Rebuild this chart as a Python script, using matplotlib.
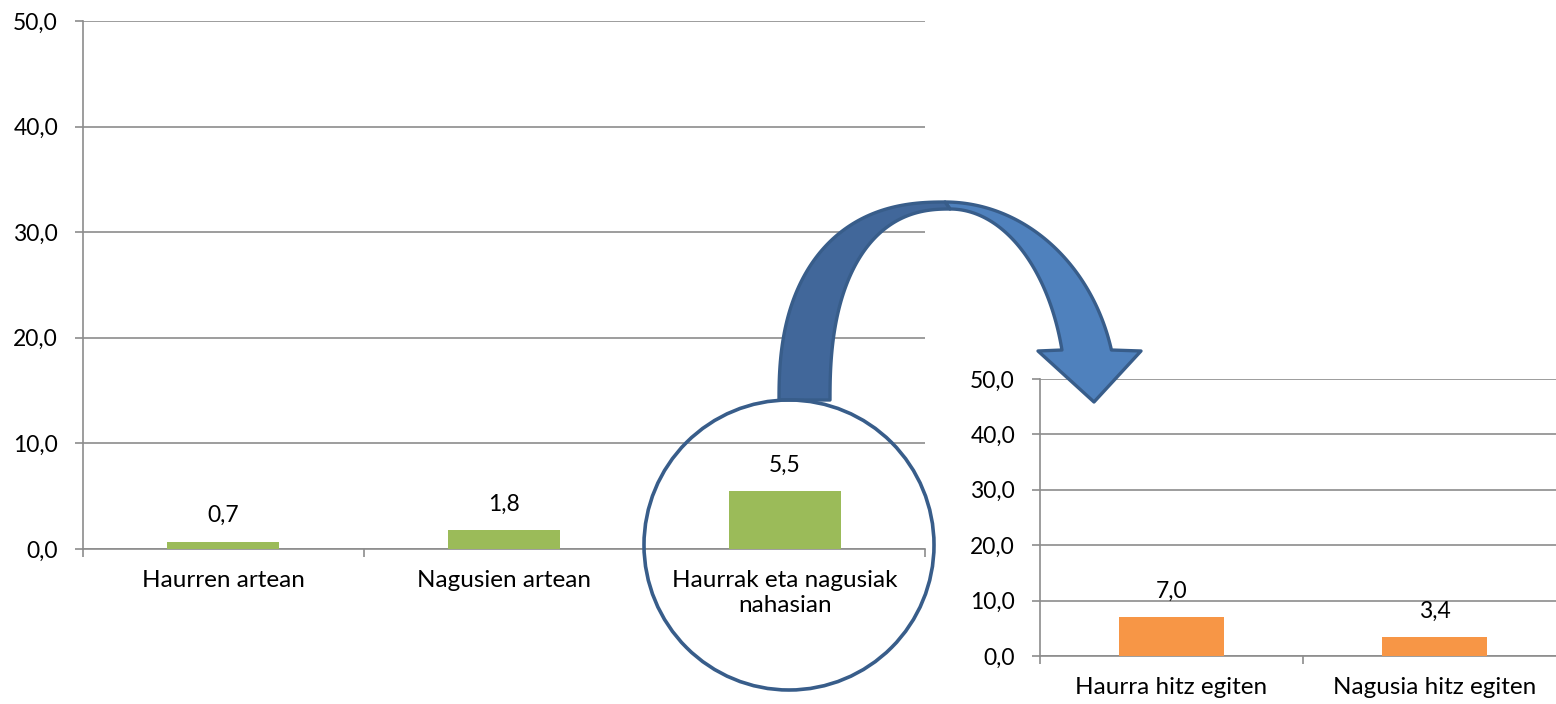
import matplotlib.pyplot as plt
import numpy as np
from matplotlib.patches import Circle, Polygon

plt.rcParams["font.family"] = ["Lato", "DejaVu Sans"]

# data
left_categories = ["Haurren artean", "Nagusien artean", "Haurrak eta nagusiak\nnahasian"]
left_values = [0.7, 1.8, 5.5]
right_categories = ["Haurra hitz egiten", "Nagusia hitz egiten"]
right_values = [7.0, 3.4]
y_ticks = [0, 10, 20, 30, 40, 50]

GREEN = "#9BBB59"
ORANGE = "#F79646"
GRID = "#8C8C8C"
OUTLINE = "#385D8A"
DARK_BLUE = "#41679A"
LIGHT_BLUE = "#4F81BD"

W, H = 1556, 704


def fmt(v):
    return f"{v:.1f}".replace(".", ",")


def bar_panel(ax, categories, values, color):
    x = np.arange(len(categories))
    ax.bar(x, values, width=0.4, color=color, zorder=3)
    for xi, v in zip(x, values):
        ax.annotate(fmt(v), (xi, v), xytext=(0, 14), textcoords="offset points",
                    ha="center", va="baseline", fontsize=16.5, color="black")
    ax.set_xlim(-0.5, len(categories) - 0.5)
    ax.set_ylim(0, 50)
    ax.set_yticks(y_ticks)
    ax.set_yticklabels([fmt(t) for t in y_ticks])
    ax.set_xticks(x)
    ax.set_xticklabels(categories, linespacing=1.25)
    ax.set_xticks(np.arange(len(categories) + 1) - 0.5, minor=True)
    ax.tick_params(axis="x", which="major", length=0, pad=15, labelsize=17.5, labelcolor="black")
    ax.tick_params(axis="x", which="minor", length=6, width=1.2, color=GRID)
    ax.tick_params(axis="y", length=6, width=1.2, color=GRID, pad=12, labelsize=16.5,
                   labelcolor="black")
    ax.grid(axis="y", color=GRID, linewidth=1.2, zorder=0)
    ax.set_axisbelow(True)
    for side in ("top", "right"):
        ax.spines[side].set_visible(False)
    for side in ("left", "bottom"):
        ax.spines[side].set_color(GRID)
        ax.spines[side].set_linewidth(1.2)
    ax.patch.set_alpha(0)


def arc(cx, cy, a, b, t0, t1, n=2.0, steps=80):
    # superellipse arc, y grows downwards (pixel coordinates)
    t = np.linspace(t0, t1, steps)
    c, s = np.cos(t), np.sin(t)
    x = cx + a * np.sign(c) * np.abs(c) ** (2 / n)
    y = cy - b * np.abs(s) ** (2 / n)
    return np.column_stack([x, y])


fig = plt.figure(figsize=(W / 100, H / 100), dpi=100)

ax_left = fig.add_axes([83 / W, 1 - 549 / H, (925 - 83) / W, (549 - 21) / H])
bar_panel(ax_left, left_categories, left_values, GREEN)

ax_right = fig.add_axes([1040 / W, 1 - 656 / H, 526 / W, (656 - 379) / H])
bar_panel(ax_right, right_categories, right_values, ORANGE)

# overlay: circle and curved arrow, in pixel coordinates
ov = fig.add_axes([0, 0, 1, 1], zorder=10)
ov.set_xlim(0, W)
ov.set_ylim(H, 0)
ov.axis("off")
ov.patch.set_alpha(0)

# light (right) half of the curved arrow with its head
outer_right = arc(945, 400, 172, 198, np.pi / 2, np.arcsin(50 / 198))
inner_right = arc(950, 400, 116, 191, np.arcsin(50 / 191), np.pi / 2)
head = np.array([[1141, 351], [1094, 402], [1038, 351]])
light = np.vstack([outer_right, head, inner_right])
ov.add_patch(Polygon(light, closed=True, facecolor=LIGHT_BLUE, edgecolor=OUTLINE,
                     linewidth=2.4, joinstyle="round"))

# dark (left) half
outer_left = arc(945, 400, 166, 198, np.pi, np.pi / 2, n=2.4)
inner_left = arc(950, 400, 120, 191, np.pi / 2, np.pi, n=2.4)
dark = np.vstack([outer_left, inner_left])
ov.add_patch(Polygon(dark, closed=True, facecolor=DARK_BLUE, edgecolor=OUTLINE,
                     linewidth=2.4, joinstyle="round"))

ov.add_patch(Circle((789, 545), 145, fill=False, edgecolor=OUTLINE, linewidth=2.6))

fig.savefig("out.png", dpi=100)
